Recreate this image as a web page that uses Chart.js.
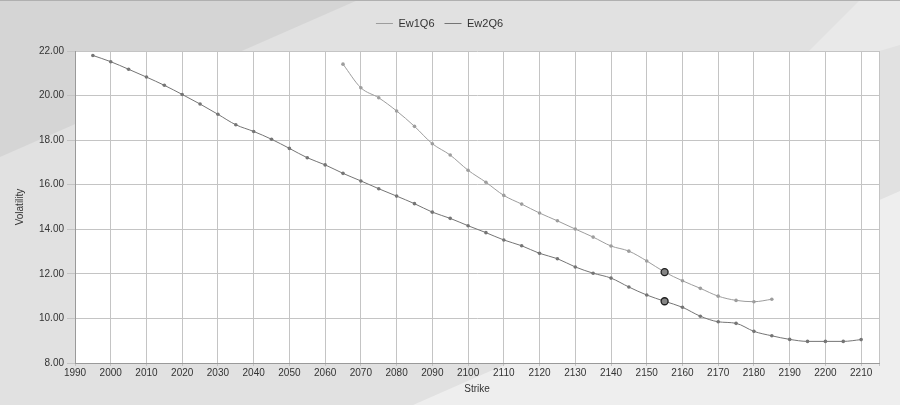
<!DOCTYPE html>
<html>
<head>
<meta charset="utf-8">
<script src="https://cdn.jsdelivr.net/npm/chart.js@4"></script>
<style>
  html, body { margin: 0; padding: 0; background: #e0e0e0; }
  #wrap { width: 900px; height: 405px; position: relative; }
  canvas { display: block; }
</style>
</head>
<body>
<div id="wrap"><canvas id="c" width="900" height="405"></canvas></div>
<script>
// ---- data ----
const seriesNames = ["Ew1Q6", "Ew2Q6"];

const ew1Strikes = [2065, 2070, 2075, 2080, 2085, 2090, 2095, 2100, 2105, 2110, 2115, 2120, 2125,
                    2130, 2135, 2140, 2145, 2150, 2155, 2160, 2165, 2170, 2175, 2180, 2185];
const ew1Vols = [21.41, 20.35, 19.90, 19.31, 18.62, 17.84, 17.33, 16.65, 16.11, 15.52, 15.13, 14.73, 14.38,
                 14.01, 13.65, 13.25, 13.02, 12.58, 12.08, 11.69, 11.35, 11.00, 10.81, 10.75, 10.86];

const ew2Strikes = [1995, 2000, 2005, 2010, 2015, 2020, 2025, 2030, 2035, 2040, 2045, 2050, 2055, 2060, 2065,
                    2070, 2075, 2080, 2085, 2090, 2095, 2100, 2105, 2110, 2115, 2120, 2125, 2130, 2135, 2140,
                    2145, 2150, 2155, 2160, 2165, 2170, 2175, 2180, 2185, 2190, 2195, 2200, 2205, 2210];
const ew2Vols = [21.80, 21.52, 21.18, 20.83, 20.46, 20.05, 19.62, 19.16, 18.69, 18.39, 18.04, 17.63, 17.21, 16.89, 16.51,
                 16.17, 15.82, 15.49, 15.15, 14.77, 14.49, 14.16, 13.85, 13.52, 13.26, 12.92, 12.68, 12.31, 12.03, 11.81,
                 11.41, 11.05, 10.77, 10.50, 10.10, 9.85, 9.78, 9.42, 9.22, 9.06, 8.97, 8.97, 8.97, 9.05];

const highlightStrike = [2155];

const xTickLabels = [1990, 2000, 2010, 2020, 2030, 2040, 2050, 2060, 2070, 2080, 2090, 2100,
                     2110, 2120, 2130, 2140, 2150, 2160, 2170, 2180, 2190, 2200, 2210];
const yTickLabels = [8, 10, 12, 14, 16, 18, 20, 22];
const xAxisEnd = 2215;

const xTitle = "Strike";
const yTitle = "Volatility";

const lineColors = ['#9d9d9d', '#757575'];

// ---- helpers ----
function pts(xs, ys) { return xs.map((x, i) => ({ x: x, y: ys[i] })); }
function isHi(ctx) {
  const r = ctx.raw;
  return r && highlightStrike.indexOf(r.x) >= 0;
}

const bgPlugin = {
  id: 'bg',
  beforeLayout(chart) {
    const lg = chart.legend;
    if (lg && !lg._patched) {
      const f = lg.fit.bind(lg);
      lg.fit = function () { f(); this.height += 12; };
      lg._patched = true;
    }
  },
  beforeDraw(chart) {
    const c = chart.ctx, W = chart.width, H = chart.height;
    c.save();
    c.fillStyle = '#e1e1e1';
    c.fillRect(0, 0, W, H);
    c.fillStyle = '#d5d5d5';
    c.beginPath(); c.moveTo(0, 0); c.lineTo(358, 0); c.lineTo(0, 157); c.closePath(); c.fill();
    c.fillStyle = '#eeeeee';
    c.beginPath(); c.moveTo(413, H); c.lineTo(W, H); c.lineTo(W, 191); c.closePath(); c.fill();
    c.fillStyle = '#e9e9e9';
    c.beginPath(); c.moveTo(860, 0); c.lineTo(W, 0); c.lineTo(W, 45); c.lineTo(780, 80); c.closePath(); c.fill();
    c.fillStyle = '#b0b0b0';
    c.fillRect(0, 0, W, 1);
    const a = chart.chartArea;
    c.fillStyle = '#ffffff';
    c.fillRect(a.left, a.top, a.right - a.left, a.bottom - a.top);
    c.restore();
  }
};

const FONT = "'Liberation Sans', Arial, sans-serif";

function makeDataset(i, xs, ys) {
  const col = lineColors[i];
  return {
    label: seriesNames[i],
    data: pts(xs, ys),
    borderColor: col,
    backgroundColor: col,
    borderWidth: 1,
    pointRadius: (ctx) => isHi(ctx) ? 3.5 : 1.8,
    pointBackgroundColor: (ctx) => isHi(ctx) ? '#858585' : col,
    pointBorderColor: (ctx) => isHi(ctx) ? '#1e1e1e' : col,
    pointBorderWidth: (ctx) => isHi(ctx) ? 1.3 : 0,
    cubicInterpolationMode: 'monotone',
    fill: false
  };
}

new Chart(document.getElementById('c'), {
  type: 'line',
  data: {
    datasets: [
      makeDataset(0, ew1Strikes, ew1Vols),
      makeDataset(1, ew2Strikes, ew2Vols)
    ]
  },
  options: {
    responsive: false,
    animation: false,
    layout: { padding: { top: 8, right: 21, left: 0, bottom: 0 } },
    plugins: {
      legend: {
        display: true,
        position: 'top',
        labels: {
          usePointStyle: true,
          pointStyle: 'line',
          pointStyleWidth: 17,
          boxWidth: 17,
          boxHeight: 10,
          padding: 10,
          color: '#333333',
          font: { family: FONT, size: 11 },
          generateLabels(chart) {
            return chart.data.datasets.map((ds, i) => ({
              text: ds.label,
              fillStyle: lineColors[i],
              strokeStyle: lineColors[i],
              lineWidth: 1,
              pointStyle: 'line',
              hidden: false,
              datasetIndex: i,
              fontColor: '#333333'
            }));
          }
        }
      },
      tooltip: { enabled: false }
    },
    scales: {
      x: {
        type: 'linear',
        min: xTickLabels[0],
        max: xAxisEnd,
        afterBuildTicks(scale) {
          scale.ticks = xTickLabels.map(v => ({ value: v })).concat([{ value: xAxisEnd }]);
        },
        afterFit(scale) { scale.height = 42; },
        ticks: {
          autoSkip: false,
          maxRotation: 0,
          padding: 1,
          color: '#333333',
          font: { family: FONT, size: 10 },
          callback: (v) => xTickLabels.indexOf(v) >= 0 ? String(v) : ''
        },
        grid: { color: '#c4c4c4', lineWidth: 1, tickLength: 3, drawTicks: true },
        border: { color: '#9a9a9a' },
        title: {
          display: true,
          text: xTitle,
          color: '#333333',
          font: { family: FONT, size: 10 },
          padding: { top: 0, bottom: 10 }
        }
      },
      y: {
        type: 'linear',
        min: yTickLabels[0],
        max: yTickLabels[yTickLabels.length - 1],
        afterBuildTicks(scale) {
          scale.ticks = yTickLabels.map(v => ({ value: v }));
        },
        afterFit(scale) { scale.width = 75; },
        ticks: {
          padding: 3,
          color: '#333333',
          font: { family: FONT, size: 10 },
          callback: (v) => Number(v).toFixed(2)
        },
        grid: { color: '#c4c4c4', lineWidth: 1, tickLength: 8 },
        border: { color: '#9a9a9a' },
        title: {
          display: true,
          text: yTitle,
          color: '#333333',
          font: { family: FONT, size: 10 },
          padding: { top: 14, bottom: 0 }
        }
      }
    }
  },
  plugins: [bgPlugin]
});
</script>
</body>
</html>
